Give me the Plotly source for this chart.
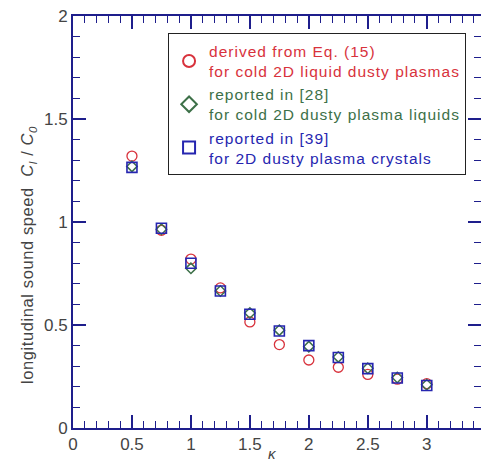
import plotly.graph_objects as go

kappa = [0.5, 0.75, 1.0, 1.25, 1.5, 1.75, 2.0, 2.25, 2.5, 2.75, 3.0]
eq15 = [1.32, 0.96, 0.82, 0.68, 0.515, 0.405, 0.33, 0.295, 0.26, 0.237, 0.215]
ref28 = [1.27, 0.965, 0.775, 0.665, 0.558, 0.475, 0.395, 0.345, 0.29, 0.245, 0.21]
ref39 = [1.265, 0.97, 0.80, 0.665, 0.552, 0.471, 0.40, 0.342, 0.288, 0.243, 0.206]

RED = "#d8323c"
GREEN = "#3d7048"
BLUE = "#2626b0"
AX = "#1e1e8c"
TXT = "#444"

def lab(color, a, b):
    st = f"color:{color};letter-spacing:1px"
    return f'<span style="{st}">{a}</span><br><span style="{st}">{b}</span>'

names = [
    lab(RED, "derived from Eq. (15)", "for cold 2D liquid dusty plasmas"),
    lab(GREEN, "reported in [28]", "for cold 2D dusty plasma liquids"),
    lab(BLUE, "reported in [39]", "for 2D dusty plasma crystals"),
]

fig = go.Figure()
fig.add_trace(go.Scatter(x=kappa, y=eq15, mode="markers", name=names[0],
                         marker=dict(symbol="circle-open", size=10, color=RED, line=dict(width=1.3))))
fig.add_trace(go.Scatter(x=kappa, y=ref28, mode="markers", name=names[1],
                         marker=dict(symbol="diamond-open", size=8, color=GREEN, line=dict(width=1.5))))
fig.add_trace(go.Scatter(x=kappa, y=ref39, mode="markers", name=names[2],
                         marker=dict(symbol="square-open", size=10, color=BLUE, line=dict(width=1.6))))

XR = [0, 3.46]
YR = [0, 2.0]
common = dict(showgrid=False, zeroline=False, showline=True, linecolor=AX, linewidth=2,
              ticks="inside", ticklen=13, tickwidth=1.5, tickcolor=AX,
              minor=dict(ticks="inside", ticklen=7, tickwidth=1.2, tickcolor=AX, dtick=0.1, showgrid=False))
tickfont = dict(family="Liberation Sans, Arial", size=17, color=TXT)

fig.update_layout(
    width=481, height=465,
    margin=dict(l=73, r=0, t=16, b=37),
    paper_bgcolor="white", plot_bgcolor="white",
    xaxis=dict(range=XR, dtick=0.5, tick0=0, tickfont=tickfont, **common),
    yaxis=dict(range=YR, dtick=0.5, tick0=0, tickfont=tickfont, **common),
    xaxis2=dict(range=XR, dtick=0.5, tick0=0, overlaying="x", side="top", showticklabels=False, **common),
    yaxis2=dict(range=YR, dtick=0.5, tick0=0, overlaying="y", side="right", showticklabels=False, **common),
    legend=dict(x=0.233, y=0.958, xanchor="left", yanchor="top",
                bordercolor="#222", borderwidth=1, bgcolor="white",
                font=dict(family="Liberation Sans, Arial", size=15.5),
                tracegroupgap=0, itemsizing="constant", itemwidth=30),
    showlegend=True,
)
fig.add_trace(go.Scatter(x=[None], y=[None], xaxis="x2", yaxis="y2", showlegend=False, hoverinfo="skip"))

fig.add_annotation(text='<span style="letter-spacing:0.6px">longitudinal sound speed  <i>C<sub>l</sub></i> / <i>C</i><sub><i>0</i></sub></span>',
                   xref="paper", yref="paper", x=-0.110, y=0.42, xanchor="center", yanchor="middle",
                   textangle=-90, showarrow=False,
                   font=dict(family="Liberation Sans, Arial", size=16.5, color=TXT))
fig.add_annotation(text="<i>κ</i>", xref="paper", yref="paper", x=0.488, y=-0.087, yanchor="bottom",
                   showarrow=False, font=dict(family="Liberation Sans, Arial", size=15, color=TXT))

fig.write_html("out.html")
